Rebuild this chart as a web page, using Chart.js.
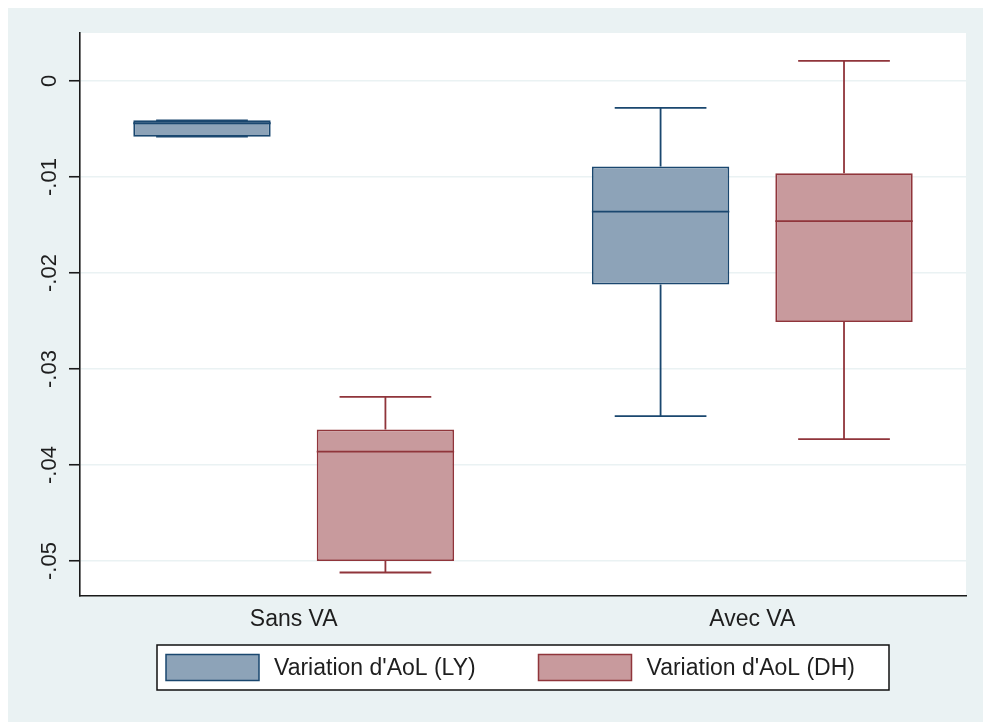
<!DOCTYPE html>
<html><head><meta charset="utf-8">
<script src="https://cdn.jsdelivr.net/npm/chart.js@4"></script>
<style>html,body{margin:0;padding:0;background:#fff}canvas{display:block}</style>
</head><body>
<canvas id="c" width="983" height="722"></canvas>
<script>
// ---- data ----
const categories = ["Sans VA", "Avec VA"];
const seriesNames = ["Variation d'AoL (LY)", "Variation d'AoL (DH)"];
// series 1: LY
const lyLower  = [-0.0058, -0.0349];
const lyQ1     = [-0.0058, -0.0212];
const lyMedian = [-0.0044, -0.0136];
const lyQ3     = [-0.0041, -0.0089];
const lyUpper  = [-0.0041, -0.0028];
// series 2: DH
const dhLower  = [-0.0512, -0.0373];
const dhQ1     = [-0.0500, -0.0251];
const dhMedian = [-0.0386, -0.0146];
const dhQ3     = [-0.0363, -0.0096];
const dhUpper  = [-0.0329, 0.0021];
// axis ticks
const yTicks = [0, -0.01, -0.02, -0.03, -0.04, -0.05];
const yTickLabels = ["0", "-.01", "-.02", "-.03", "-.04", "-.05"];

// ---- styles ----
const FONT = "'Liberation Sans', Arial, sans-serif";
const TXT = '#1e1e1e';
const BG = '#EAF2F3';
const OFFSET = 0.2;     // box offset from group centre (x units)
const CAP = 0.1;        // half cap width (x units)

function boxes(q1, q3, off) {
  return categories.map((c, i) => ({ x: i + 1 + off, y: [q1[i], q3[i]] }));
}

const datasets = [
  {
    label: seriesNames[0],
    data: boxes(lyQ1, lyQ3, -OFFSET),
    stats: { lower: lyLower, median: lyMedian, upper: lyUpper, off: -OFFSET },
    backgroundColor: 'rgb(141,163,184)',
    borderColor: 'rgb(26,71,111)',
    borderWidth: 1.8,
    borderSkipped: false
  },
  {
    label: seriesNames[1],
    data: boxes(dhQ1, dhQ3, OFFSET),
    stats: { lower: dhLower, median: dhMedian, upper: dhUpper, off: OFFSET },
    backgroundColor: 'rgb(200,154,157)',
    borderColor: 'rgb(144,53,59)',
    borderWidth: 1.8,
    borderSkipped: false
  }
];

const bgPlugin = {
  id: 'stataBg',
  beforeDraw(chart) {
    const ctx = chart.ctx, ca = chart.chartArea;
    ctx.save();
    ctx.fillStyle = BG;
    ctx.fillRect(8, 8, chart.width - 8, chart.height - 8);
    ctx.fillStyle = '#fff';
    ctx.fillRect(ca.left, ca.top, ca.right - ca.left, ca.bottom - ca.top);
    ctx.restore();
  }
};

const whiskerPlugin = {
  id: 'whiskers',
  afterDatasetsDraw(chart) {
    const ctx = chart.ctx, xs = chart.scales.x, ys = chart.scales.y;
    chart.data.datasets.forEach((ds, di) => {
      const meta = chart.getDatasetMeta(di);
      const st = ds.stats;
      meta.data.forEach((bar, j) => {
        const xv = j + 1 + st.off;
        const cx = xs.getPixelForValue(xv);
        const c0 = xs.getPixelForValue(xv - CAP), c1 = xs.getPixelForValue(xv + CAP);
        const yQ1 = ys.getPixelForValue(ds.data[j].y[0]);
        const yQ3 = ys.getPixelForValue(ds.data[j].y[1]);
        const yLo = ys.getPixelForValue(st.lower[j]);
        const yHi = ys.getPixelForValue(st.upper[j]);
        const yMed = ys.getPixelForValue(st.median[j]);
        ctx.save();
        ctx.strokeStyle = ds.borderColor;
        ctx.lineWidth = 1.8;
        ctx.beginPath();
        // whiskers
        ctx.moveTo(cx, yQ3); ctx.lineTo(cx, yHi);
        ctx.moveTo(cx, yQ1); ctx.lineTo(cx, yLo);
        // caps
        ctx.moveTo(c0, yHi); ctx.lineTo(c1, yHi);
        ctx.moveTo(c0, yLo); ctx.lineTo(c1, yLo);
        ctx.stroke();
        // median
        ctx.beginPath();
        ctx.moveTo(bar.x - bar.width / 2, yMed);
        ctx.lineTo(bar.x + bar.width / 2, yMed);
        ctx.stroke();
        ctx.restore();
      });
    });
  }
};

const legendPlugin = {
  id: 'frameLegend',
  afterDraw(chart) {
    const ctx = chart.ctx, ca = chart.chartArea;
    const fw = 732, fh = 45;
    const fx = (ca.left + ca.right) / 2 - fw / 2, fy = 645;
    ctx.save();
    ctx.fillStyle = '#fff';
    ctx.fillRect(fx, fy, fw, fh);
    ctx.lineWidth = 1.5;
    ctx.strokeStyle = '#111';
    ctx.strokeRect(fx, fy, fw, fh);
    const cols = [9, 381.5];
    ctx.font = '23px ' + FONT;
    ctx.textBaseline = 'middle';
    ctx.textAlign = 'left';
    chart.data.datasets.forEach((ds, i) => {
      const sx = fx + cols[i], sy = fy + 9.5;
      ctx.fillStyle = ds.backgroundColor;
      ctx.fillRect(sx, sy, 93, 26);
      ctx.strokeStyle = ds.borderColor;
      ctx.lineWidth = 1.5;
      ctx.strokeRect(sx, sy, 93, 26);
      ctx.fillStyle = TXT;
      ctx.fillText(ds.label, sx + 93 + 15, fy + fh / 2 + 1);
    });
    ctx.restore();
  }
};

new Chart(document.getElementById('c'), {
  type: 'bar',
  data: { datasets },
  options: {
    responsive: false,
    animation: false,
    devicePixelRatio: 1,
    grouped: false,
    categoryPercentage: 1,
    barPercentage: 0.749,
    layout: { padding: { top: 33, right: 17, left: 0, bottom: 0 } },
    plugins: { legend: { display: false }, tooltip: { enabled: false } },
    scales: {
      x: {
        type: 'linear',
        offset: false,
        min: 0.534,
        max: 2.466,
        afterBuildTicks: (s) => { s.ticks = categories.map((c, i) => ({ value: i + 1 })); },
        afterFit: (s) => { s.height = 126; },
        ticks: {
          autoSkip: false, maxRotation: 0, minRotation: 0, padding: 10,
          color: TXT, font: { family: FONT, size: 23 },
          callback: (v, i) => categories[i]
        },
        grid: { display: false, drawTicks: false, offset: false },
        border: { display: true, color: '#1a1a1a', width: 1.6 }
      },
      y: {
        type: 'linear',
        min: -0.053646,
        max: 0.005,
        afterBuildTicks: (s) => { s.ticks = yTicks.map(v => ({ value: v })); },
        afterFit: (s) => { s.width = 80; },
        ticks: {
          autoSkip: false, minRotation: 90, maxRotation: 90, crossAlign: 'center', padding: 0,
          color: TXT, font: { family: FONT, size: 22 },
          callback: (v, i) => yTickLabels[i]
        },
        grid: { color: BG, lineWidth: 1.5, tickColor: '#1a1a1a', tickLength: 11, tickWidth: 1.6, drawTicks: true },
        border: { display: true, color: '#1a1a1a', width: 1.6 }
      }
    }
  },
  plugins: [bgPlugin, whiskerPlugin, legendPlugin]
});
</script>
</body></html>
